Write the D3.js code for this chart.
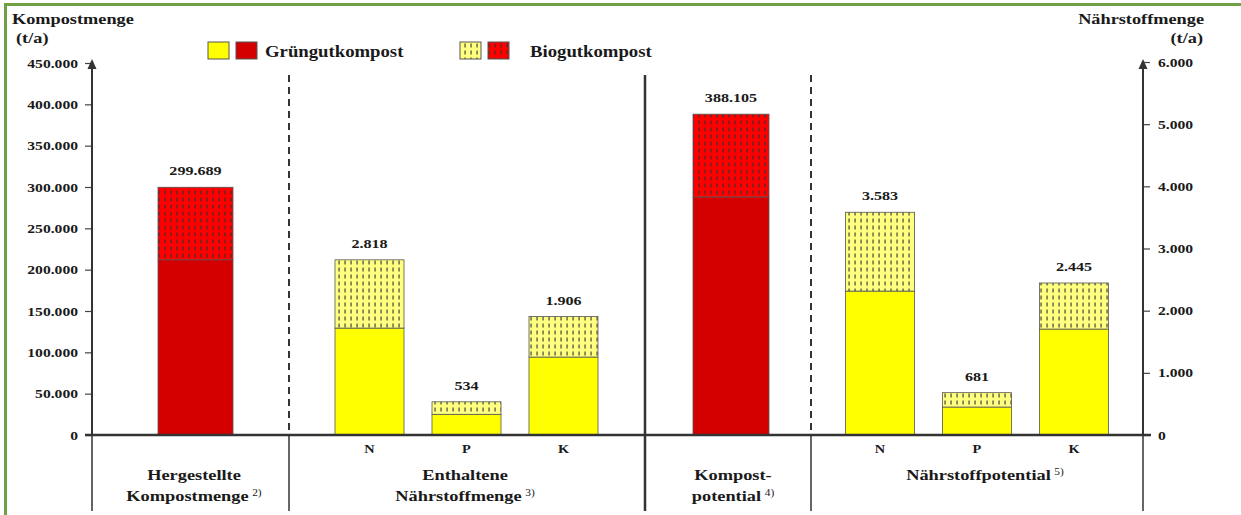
<!DOCTYPE html>
<html lang="de">
<head>
<meta charset="utf-8">
<script src="https://cdn.jsdelivr.net/npm/d3@7"></script>
<style>
  html, body { margin: 0; padding: 0; background: #fff; }
  svg { display: block; }
  text { font-family: "Liberation Serif", "Times New Roman", serif; font-weight: bold; fill: #1a1a1a; }
</style>
</head>
<body>
<svg id="chart" width="1241" height="515"></svg>
<script>
// ---- Daten ----
const compostCategories = ["Hergestellte Kompostmenge", "Kompostpotential"];
const compostTotal      = [299689, 388105];   // t/a, Grüngut + Biogut
const compostGruengut   = [212000, 288000];   // t/a, Anteil Grüngutkompost

const nutrientCategories        = ["N", "P", "K"];
const nutrientContainedTotal    = [2818, 534, 1906];  // t/a
const nutrientContainedGruengut = [1720, 333, 1254];
const nutrientPotentialTotal    = [3583, 681, 2445];  // t/a
const nutrientPotentialGruengut = [2315, 450, 1704];

const leftTicks  = [0, 50000, 100000, 150000, 200000, 250000, 300000, 350000, 400000, 450000];
const rightTicks = [0, 1000, 2000, 3000, 4000, 5000, 6000];

const groupLabels = [
  { lines: ["Hergestellte", "Kompostmenge"], note: "2)" },
  { lines: ["Enthaltene", "Nährstoffmenge"], note: "3)" },
  { lines: ["Kompost-", "potential"], note: "4)" },
  { lines: ["Nährstoffpotential"], note: "5)" }
];
const legendItems = [
  { label: "Grüngutkompost", fills: ["#ffff00", "#d40000"] },
  { label: "Biogutkompost",  fills: ["url(#bioYellow)", "url(#bioRed)"] }
];

// ---- Layout ----
const svg = d3.select("#chart");
const W = 1241, H = 515;
const x0 = 92, x1 = 1143, yBase = 435;
const dividers = [289, 645, 811];
const SX = 1.2; // breite Schrift

const fmt = d3.formatLocale({ decimal: ",", thousands: ".", grouping: [3], currency: ["", " €"] }).format(",d");

const yLeft  = d3.scaleLinear().domain([0, 450000]).range([yBase, 63]);
const yRight = d3.scaleLinear().domain([0, 6000]).range([yBase, 62]);

const xHerg  = d3.scalePoint().domain([compostCategories[0]]).range([195.5, 195.5]);
const xKomp  = d3.scalePoint().domain([compostCategories[1]]).range([731, 731]);
const xEnth  = d3.scalePoint().domain(nutrientCategories).range([369.5, 563.5]);
const xPot   = d3.scalePoint().domain(nutrientCategories).range([880, 1074]);

// Text mit horizontaler Streckung
function label(x, y, str, size, anchor = "start", sx = SX) {
  return svg.append("text")
    .attr("transform", `translate(${x},${y}) scale(${sx},1)`)
    .attr("text-anchor", anchor).attr("font-size", size).text(str);
}

// Muster für Biogut: helle Fläche mit kurzen senkrechten Strichen
const defs = svg.append("defs");
function bioPattern(id, bg) {
  const p = defs.append("pattern").attr("id", id)
    .attr("patternUnits", "userSpaceOnUse").attr("width", 6).attr("height", 7);
  p.append("rect").attr("width", 6).attr("height", 7).attr("fill", bg);
  p.append("rect").attr("x", 2.5).attr("y", 1.5).attr("width", 1.1).attr("height", 4).attr("fill", "#333");
}
bioPattern("bioYellow", "#ffff80");
bioPattern("bioRed", "#ff0000");

// Rahmen
svg.append("path").attr("d", `M5.5,${H + 5} V4.5 H${W + 5}`)
  .attr("fill", "none").attr("stroke", "#70a045").attr("stroke-width", 3);

// Trennlinien zwischen den Gruppen
[dividers[0], dividers[2]].forEach(x => {
  svg.append("line").attr("x1", x).attr("x2", x).attr("y1", 75).attr("y2", yBase)
    .attr("stroke", "#333").attr("stroke-width", 2).attr("stroke-dasharray", "7,5");
});
svg.append("line").attr("x1", dividers[1]).attr("x2", dividers[1]).attr("y1", 75).attr("y2", 511)
  .attr("stroke", "#333").attr("stroke-width", 2.5);
[x0, dividers[0], dividers[2], x1].forEach(x => {
  svg.append("line").attr("x1", x).attr("x2", x).attr("y1", yBase).attr("y2", 511)
    .attr("stroke", "#333").attr("stroke-width", 1.5);
});

// Balken zeichnen
function stack(xs, key, y, total, green, width, greenFill, bioFill) {
  const cx = xs(key);
  svg.append("rect").attr("x", cx - width / 2).attr("width", width)
    .attr("y", y(green)).attr("height", y(0) - y(green))
    .attr("fill", greenFill).attr("stroke", "#555").attr("stroke-width", 0.8);
  svg.append("rect").attr("x", cx - width / 2).attr("width", width)
    .attr("y", y(total)).attr("height", y(green) - y(total))
    .attr("fill", bioFill).attr("stroke", "#555").attr("stroke-width", 0.8);
  label(cx, y(total) - 12, fmt(total), 13, "middle", 1.24);
}
stack(xHerg, compostCategories[0], yLeft, compostTotal[0], compostGruengut[0], 75, "#d40000", "url(#bioRed)");
stack(xKomp, compostCategories[1], yLeft, compostTotal[1], compostGruengut[1], 76, "#d40000", "url(#bioRed)");
nutrientCategories.forEach((c, i) => {
  stack(xEnth, c, yRight, nutrientContainedTotal[i], nutrientContainedGruengut[i], 69, "#ffff00", "url(#bioYellow)");
  stack(xPot,  c, yRight, nutrientPotentialTotal[i], nutrientPotentialGruengut[i], 69, "#ffff00", "url(#bioYellow)");
});

// Achsen
const tickSX = 1.25;
const axL = svg.append("g").attr("transform", `translate(${x0},0)`)
  .call(d3.axisLeft(yLeft).tickValues(leftTicks).tickFormat(fmt).tickSize(7).tickPadding(7));
const axR = svg.append("g").attr("transform", `translate(${x1},0)`)
  .call(d3.axisRight(yRight).tickValues(rightTicks).tickFormat(fmt).tickSize(7).tickPadding(8));
[axL, axR].forEach(ax => {
  ax.select(".domain").remove();
  ax.selectAll(".tick line").attr("stroke", "#444").attr("stroke-width", 1.2);
  ax.selectAll(".tick text")
    .attr("font-size", 12.5).attr("font-family", "Liberation Serif")
    .attr("font-weight", "bold").attr("fill", "#222")
    .attr("x", function () { return +d3.select(this).attr("x") / tickSX; })
    .attr("transform", `scale(${tickSX},1)`);
});
[x0, x1].forEach(x => {
  svg.append("line").attr("x1", x).attr("x2", x).attr("y1", yBase).attr("y2", 66)
    .attr("stroke", "#333").attr("stroke-width", 2);
  svg.append("path").attr("d", `M${x},59 L${x - 4.5},69 L${x + 4.5},69 Z`).attr("fill", "#333");
});
svg.append("line").attr("x1", x0 - 7).attr("x2", x1 + 8).attr("y1", yBase).attr("y2", yBase)
  .attr("stroke", "#333").attr("stroke-width", 2.5);

// Achsentitel
label(12, 24, "Kompostmenge", 15.5, "start", 1.18);
label(16, 43, "(t/a)", 15.5, "start", 1.18);
label(1204, 24, "Nährstoffmenge", 15.5, "end", 1.18);
label(1203, 43, "(t/a)", 15.5, "end", 1.18);

// Legende
const legendX = [208, 460], legendTextX = [265, 530];
legendItems.forEach((item, i) => {
  item.fills.forEach((f, j) => {
    svg.append("rect").attr("x", legendX[i] + j * 28).attr("y", 42).attr("width", 21).attr("height", 17)
      .attr("fill", f).attr("stroke", "#555").attr("stroke-width", 1);
  });
  label(legendTextX[i], 56.5, item.label, 16.3, "start", 1.15);
});

// Kategorien unter der Achse
nutrientCategories.forEach(c => {
  [xEnth, xPot].forEach(xs => label(xs(c), 453, c, 12.5, "middle", 1.15));
});

// Gruppenbeschriftungen
const groupCenters = [194, 465, 733, 985];
groupLabels.forEach((gl, i) => {
  gl.lines.forEach((ln, k) => {
    const t = label(groupCenters[i], 480 + k * 21, null, 15.3, "middle");
    t.append("tspan").text(ln);
    if (k === gl.lines.length - 1) {
      t.append("tspan").attr("font-size", 9.5).attr("font-weight", "normal").attr("dx", 3).attr("dy", -5).text(gl.note);
    }
  });
});
</script>
</body>
</html>
